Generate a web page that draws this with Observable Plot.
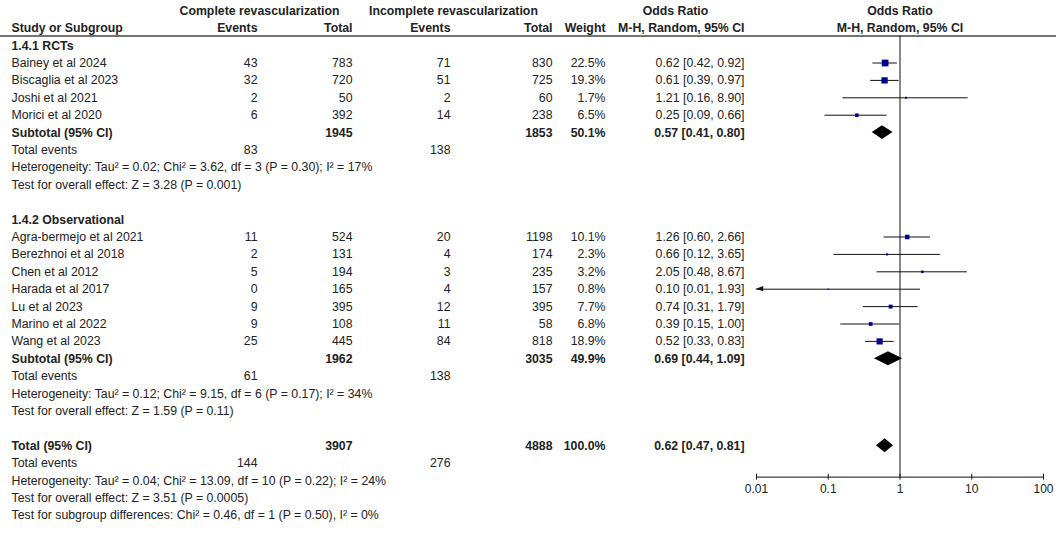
<!DOCTYPE html>
<html><head><meta charset="utf-8">
<script src="https://cdn.jsdelivr.net/npm/d3@7"></script>
<script src="https://cdn.jsdelivr.net/npm/@observablehq/plot@0.6"></script>
<style>
body{margin:0;background:#fff}
#chart svg{display:block;font-family:"Liberation Sans",Arial,sans-serif}
</style>
</head><body><div id="chart"></div>
<script>
// ---------------- data ----------------
const groupTitles = ["1.4.1 RCTs", "1.4.2 Observational"];

const rctNames  = ["Bainey et al 2024", "Biscaglia et al 2023", "Joshi et al 2021", "Morici et al 2020"];
const rctEv1    = [43, 32, 2, 6];
const rctTot1   = [783, 720, 50, 392];
const rctEv2    = [71, 51, 2, 14];
const rctTot2   = [830, 725, 60, 238];
const rctWeight = [22.5, 19.3, 1.7, 6.5];
const rctOR     = [0.62, 0.61, 1.21, 0.25];
const rctLo     = [0.42, 0.39, 0.16, 0.09];
const rctHi     = [0.92, 0.97, 8.90, 0.66];

const obsNames  = ["Agra-bermejo et al 2021", "Berezhnoi et al 2018", "Chen et al 2012", "Harada et al 2017", "Lu et al 2023", "Marino et al 2022", "Wang et al 2023"];
const obsEv1    = [11, 2, 5, 0, 9, 9, 25];
const obsTot1   = [524, 131, 194, 165, 395, 108, 445];
const obsEv2    = [20, 4, 3, 4, 12, 11, 84];
const obsTot2   = [1198, 174, 235, 157, 395, 58, 818];
const obsWeight = [10.1, 2.3, 3.2, 0.8, 7.7, 6.8, 18.9];
const obsOR     = [1.26, 0.66, 2.05, 0.10, 0.74, 0.39, 0.52];
const obsLo     = [0.60, 0.12, 0.48, 0.01, 0.31, 0.15, 0.33];
const obsHi     = [2.66, 3.65, 8.67, 1.93, 1.79, 1.00, 0.83];

// subtotals: [RCTs, Observational, Overall]
const sumLabels = ["Subtotal (95% CI)", "Subtotal (95% CI)", "Total (95% CI)"];
const sumTot1   = [1945, 1962, 3907];
const sumTot2   = [1853, 3035, 4888];
const sumWeight = [50.1, 49.9, 100.0];
const sumOR     = [0.57, 0.69, 0.62];
const sumLo     = [0.41, 0.44, 0.47];
const sumHi     = [0.80, 1.09, 0.81];
const sumEv1    = [83, 61, 144];
const sumEv2    = [138, 138, 276];
const sumHet    = [
  "Heterogeneity: Tau² = 0.02; Chi² = 3.62, df = 3 (P = 0.30); I² = 17%",
  "Heterogeneity: Tau² = 0.12; Chi² = 9.15, df = 6 (P = 0.17); I² = 34%",
  "Heterogeneity: Tau² = 0.04; Chi² = 13.09, df = 10 (P = 0.22); I² = 24%"
];
const sumTest   = [
  "Test for overall effect: Z = 3.28 (P = 0.001)",
  "Test for overall effect: Z = 1.59 (P = 0.11)",
  "Test for overall effect: Z = 3.51 (P = 0.0005)"
];
const subgroupTest = "Test for subgroup differences: Chi² = 0.46, df = 1 (P = 0.50), I² = 0%";

const headerTop = ["Complete revascularization", "Incomplete revascularization", "Odds Ratio", "Odds Ratio"];
const headerSub = ["Study or Subgroup", "Events", "Total", "Events", "Total", "Weight", "M-H, Random, 95% CI", "M-H, Random, 95% CI"];

const tickValues = [0.01, 0.1, 1, 10, 100];
const tickLabels = ["0.01", "0.1", "1", "10", "100"];

// ---------------- layout ----------------
const W = 1056, H = 538;
const rowStep = 17.4, firstStudyY = 62.5;           // pixel layout of rows
const col = {                                        // column anchors (px from left)
  name:  {x: 11,  a: "start"},
  ev1:   {x: 257, a: "end"},
  tot1:  {x: 352, a: "end"},
  ev2:   {x: 450, a: "end"},
  tot2:  {x: 552, a: "end"},
  wt:    {x: 605, a: "end"},
  ci:    {x: 744, a: "end"},
  hc1:   {x: 259, a: "middle"},
  hc2:   {x: 453, a: "middle"},
  hc3:   {x: 675, a: "middle"}
};
const axisMin = 0.01, axisMax = 100;
const fmtCI = (o, l, h) => `${o.toFixed(2)} [${l.toFixed(2)}, ${h.toFixed(2)}]`;

const cells = [];   // {r, col, text, bold}
const studies = []; // forest points
const diamonds = [];
const add = (r, c, text, bold = false) => cells.push({r, col: c, text: String(text), bold});

// header
add(-3, "hc1", headerTop[0], true);
add(-3, "hc2", headerTop[1], true);
add(-3, "hc3", headerTop[2], true);
["name","ev1","tot1","ev2","tot2","wt","ci"].forEach((c, i) => add(-2, c, headerSub[i], true));

const groups = [
  {names: rctNames, ev1: rctEv1, tot1: rctTot1, ev2: rctEv2, tot2: rctTot2, w: rctWeight, or: rctOR, lo: rctLo, hi: rctHi},
  {names: obsNames, ev1: obsEv1, tot1: obsTot1, ev2: obsEv2, tot2: obsTot2, w: obsWeight, or: obsOR, lo: obsLo, hi: obsHi}
];

let r = -1;
groups.forEach((g, gi) => {
  add(r, "name", groupTitles[gi], true); r++;
  g.names.forEach((n, i) => {
    add(r, "name", n); add(r, "ev1", g.ev1[i]); add(r, "tot1", g.tot1[i]);
    add(r, "ev2", g.ev2[i]); add(r, "tot2", g.tot2[i]);
    add(r, "wt", g.w[i].toFixed(1) + "%"); add(r, "ci", fmtCI(g.or[i], g.lo[i], g.hi[i]));
    studies.push({r, or: g.or[i], lo: g.lo[i], hi: g.hi[i], w: g.w[i]});
    r++;
  });
  r = addSummary(gi, r);
  r++; // blank row
});
r = addSummary(2, r);
add(r, "name", subgroupTest);
const totalRow = r - 4;
const axisRow = totalRow + 1.8;

function addSummary(k, r) {
  add(r, "name", sumLabels[k], true); add(r, "tot1", sumTot1[k], true); add(r, "tot2", sumTot2[k], true);
  add(r, "wt", sumWeight[k].toFixed(1) + "%", true); add(r, "ci", fmtCI(sumOR[k], sumLo[k], sumHi[k]), true);
  diamonds.push({r, or: sumOR[k], lo: sumLo[k], hi: sumHi[k], id: k});
  r++;
  add(r, "name", "Total events"); add(r, "ev1", sumEv1[k]); add(r, "ev2", sumEv2[k]); r++;
  add(r, "name", sumHet[k]); r++;
  add(r, "name", sumTest[k]); r++;
  return r;
}

const dh = 0.4; // diamond half-height in rows
const diamondPts = diamonds.flatMap(d => [
  {id: d.id, x: d.lo, y1: d.r, y2: d.r},
  {id: d.id, x: d.or, y1: d.r - dh, y2: d.r + dh},
  {id: d.id, x: d.hi, y1: d.r, y2: d.r}
]);

// clipped CIs: line to the axis limit plus a filled arrowhead
const clipped = studies.filter(d => d.lo <= axisMin);
const headLen = 0.1;  // arrowhead length in decades
const headH = 0.15;   // arrowhead half-height in rows
const arrowPts = clipped.flatMap((d, i) => [
  {id: i, x: axisMin, y1: d.r, y2: d.r},
  {id: i, x: axisMin * Math.pow(10, headLen), y1: d.r - headH, y2: d.r + headH}
]);

// ---------------- marks ----------------
const textColor = "#222";
const textMarks = [];
for (const c of Object.keys(col)) {
  for (const bold of [false, true]) {
    const data = cells.filter(d => d.col === c && d.bold === bold);
    if (!data.length) continue;
    textMarks.push(Plot.text(data, {
      y: "r", text: "text", frameAnchor: "left", dx: col[c].x, textAnchor: col[c].a,
      fontSize: 12.3, fontWeight: bold ? "bold" : "normal", fill: textColor
    }));
  }
}

const yTop = -firstStudyY / rowStep, yBot = (H - firstStudyY) / rowStep;
const headerRule = -1.55;

const chart = Plot.plot({
  width: W, height: H,
  marginLeft: 0, marginRight: 0, marginTop: 0, marginBottom: 0,
  style: {fontFamily: "'Liberation Sans', Arial, sans-serif", background: "#fff"},
  x: {type: "log", domain: [axisMin, axisMax], range: [756, 1043], axis: null},
  y: {type: "linear", domain: [yBot, yTop], axis: null},
  r: {type: "sqrt", domain: [0, 22.5], range: [0, 3.8]},
  marks: [
    ...textMarks,
    Plot.text(headerTop.slice(3), {x: () => 1, y: () => -3, text: d => d, fontWeight: "bold", fontSize: 12.3, fill: textColor}),
    Plot.text(headerSub.slice(7), {x: () => 1, y: () => -2, text: d => d, fontWeight: "bold", fontSize: 12.3, fill: textColor}),
    Plot.ruleY([headerRule], {stroke: "#444", strokeWidth: 1.5}),
    Plot.ruleX([1], {y1: headerRule, y2: axisRow, stroke: "#111", strokeWidth: 1}),
    Plot.ruleY(studies, {x1: d => Math.max(d.lo, axisMin), x2: "hi", y: "r", stroke: "#111", strokeWidth: 1}),
    Plot.areaY(arrowPts, {x: "x", y1: "y1", y2: "y2", z: "id", fill: "#111", curve: "linear"}),
    Plot.dot(studies, {x: "or", y: "r", r: "w", symbol: "square", fill: "#00008f", stroke: null}),
    Plot.areaY(diamondPts, {x: "x", y1: "y1", y2: "y2", z: "id", fill: "#000", curve: "linear"}),
    Plot.ruleY([axisRow], {x1: axisMin, x2: axisMax, stroke: "#111", strokeWidth: 1}),
    Plot.ruleX(tickValues, {x: d => d, y1: axisRow - 0.17, y2: axisRow + 0.17, stroke: "#111", strokeWidth: 1}),
    Plot.text(tickValues, {x: d => d, y: axisRow + 0.72, text: (d, i) => tickLabels[i], fontSize: 12, fill: textColor})
  ]
});
document.getElementById("chart").appendChild(chart);
</script>
</body></html>
